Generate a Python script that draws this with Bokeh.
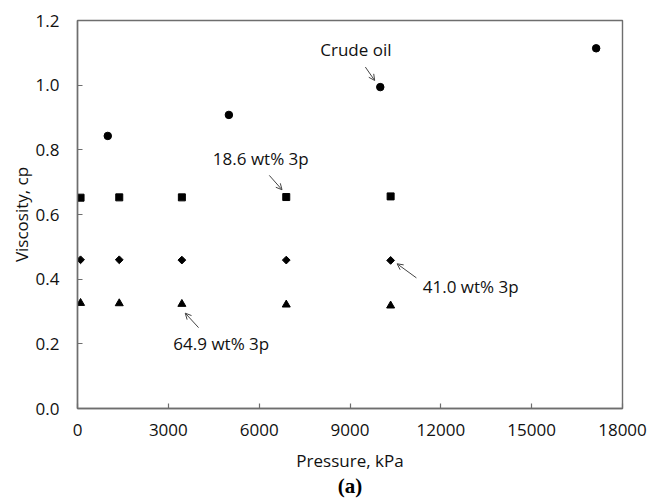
from bokeh.plotting import figure
from bokeh.models import (Range1d, FixedTicker, NumeralTickFormatter, Label, Arrow,
                          OpenHead, Title)
from bokeh.embed import file_html
from bokeh.resources import INLINE
import math

# ---- data ----
crude_p = [1000, 5000, 10000, 17130]
crude_v = [0.843, 0.908, 0.994, 1.114]

p3 = [101, 1379, 3447, 6895, 10342]
v_186 = [0.652, 0.653, 0.653, 0.654, 0.656]
v_410 = [0.460, 0.460, 0.459, 0.459, 0.458]
v_649 = [0.326, 0.325, 0.323, 0.321, 0.318]

x_ticks = [0, 3000, 6000, 9000, 12000, 15000, 18000]
y_ticks = [0.0, 0.2, 0.4, 0.6, 0.8, 1.0, 1.2]

FONT = "Open Sans"
FS = "17px"
AX = "#6e6e6e"

p = figure(frame_width=545, frame_height=388, output_backend="svg", toolbar_location=None,
           x_range=Range1d(0, 18000), y_range=Range1d(0, 1.2),
           min_border_left=77, min_border_right=27, min_border_top=20, min_border_bottom=90)

p.xgrid.visible = False
p.ygrid.visible = False
p.outline_line_color = AX
p.outline_line_width = 1.4
p.background_fill_color = "white"
p.border_fill_color = "white"

for ax in (p.xaxis[0], p.yaxis[0]):
    ax.axis_line_color = AX
    ax.axis_line_width = 1.4
    ax.major_tick_line_color = AX
    ax.major_tick_line_width = 1.2
    ax.major_tick_in = 5
    ax.major_tick_out = 0
    ax.minor_tick_line_color = None
    ax.major_label_text_font = FONT
    ax.major_label_text_font_size = FS
    ax.major_label_text_color = "#111111"
    ax.axis_label_text_font = FONT
    ax.axis_label_text_font_size = FS
    ax.axis_label_text_font_style = "normal"
    ax.axis_label_text_color = "#111111"

p.xaxis.ticker = FixedTicker(ticks=x_ticks)
p.yaxis.ticker = FixedTicker(ticks=y_ticks)
p.xaxis.formatter = NumeralTickFormatter(format="0")
p.yaxis.formatter = NumeralTickFormatter(format="0.0")
p.xaxis.axis_label = "Pressure, kPa"
p.yaxis.axis_label = "Viscosity, cp"
p.xaxis.major_label_standoff = 15
p.yaxis.major_label_standoff = 18
p.xaxis.axis_label_standoff = 10
p.yaxis.axis_label_standoff = 0

p.scatter(crude_p, crude_v, marker="circle", size=7.5, color="black")
p.scatter(p3, v_186, marker="square", size=7, color="black")
p.scatter(p3, v_410, marker="square", size=5.5, angle=math.pi / 4, color="black")
p.scatter(p3, v_649, marker="triangle", size=8, color="black")

# annotations
labels = [
    ("Crude oil", 9194, 1.109),
    ("18.6 wt% 3p", 6054, 0.772),
    ("41.0 wt% 3p", 12988, 0.377),
    ("64.9 wt% 3p", 4749, 0.200),
]
for t, x, y in labels:
    p.add_layout(Label(x=x, y=y, text=t, text_font=FONT, text_font_size=FS,
                       text_color="#111111", text_align="center", text_baseline="middle"))

arrows = [
    (9507, 1.056, 9815, 1.0145),
    (6335, 0.721, 6755, 0.6765),
    (11193, 0.404, 10555, 0.4476),
    (3999, 0.250, 3559, 0.2948),
]
for x0, y0, x1, y1 in arrows:
    p.add_layout(Arrow(x_start=x0, y_start=y0, x_end=x1, y_end=y1,
                       line_color="#444444", line_width=1,
                       end=OpenHead(size=6, line_color="#444444", line_width=1)))

p.add_layout(Title(text="(a)", align="center", text_font="Liberation Serif",
                   text_font_size="21px", text_font_style="bold", text_color="black",
                   standoff=-6), "below")

open("out.html", "w").write(file_html(p, INLINE))
